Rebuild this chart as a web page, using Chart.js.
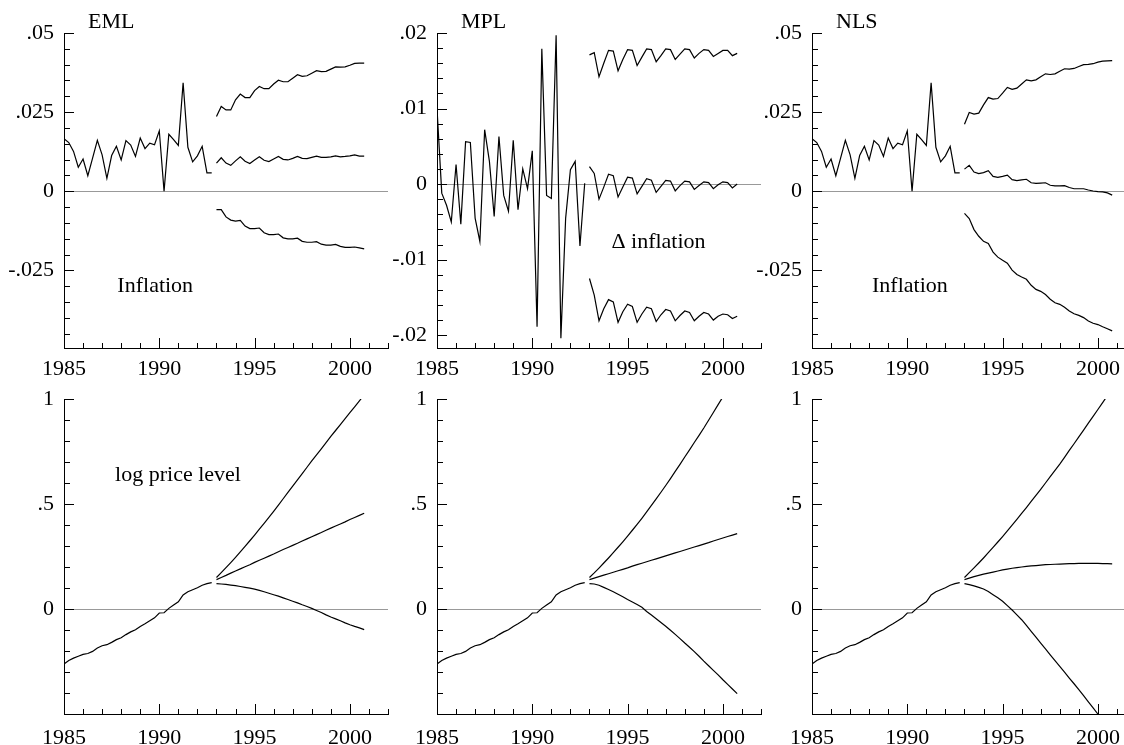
<!DOCTYPE html>
<html>
<head>
<meta charset="utf-8">
<script src="https://cdn.jsdelivr.net/npm/chart.js@4.4.1/dist/chart.umd.min.js"></script>
<style>
  html, body { margin: 0; padding: 0; background: #fff; overflow: hidden; width: 1124px; height: 745px; }
  canvas { position: absolute; }
</style>
</head>
<body>
<canvas id="emlInfl" width="392" height="380" style="left:0px;top:0px"></canvas>
<canvas id="mplInfl" width="392" height="380" style="left:373px;top:0px"></canvas>
<canvas id="nlsInfl" width="392" height="380" style="left:748px;top:0px"></canvas>
<canvas id="emlLog" width="392" height="380" style="left:0px;top:366px"></canvas>
<canvas id="mplLog" width="392" height="380" style="left:373px;top:366px"></canvas>
<canvas id="nlsLog" width="392" height="380" style="left:748px;top:366px"></canvas>
<script>
// quarterly dates: sample 1985Q1-1992Q4, forecasts 1993Q1-2000Q4
const histDates = [];
const foreDates = [];
for (let i = 0; i < 32; i++) {
    histDates.push(1985 + i / 4);
    foreDates.push(1993 + i / 4);
}

const yearLabels = [1985, 1990, 1995, 2000];

// observed series
const inflation = [0.0166, 0.0154, 0.0126, 0.0076, 0.0102, 0.0049, 0.0105, 0.0161,
    0.0115, 0.0041, 0.0113, 0.0142, 0.0099, 0.0160, 0.0146, 0.0110,
    0.0168, 0.0135, 0.0152, 0.0147, 0.0191, 0.0000, 0.0180, 0.0163,
    0.0145, 0.0343, 0.0139, 0.0093, 0.0112, 0.0142, 0.0058, 0.0058];
const dInflation = [0.0100, -0.0012, -0.0028, -0.0050, 0.0026, -0.0053, 0.0056, 0.0055,
    -0.0045, -0.0076, 0.0072, 0.0030, -0.0043, 0.0063, -0.0015, -0.0036,
    0.0058, -0.0034, 0.0020, -0.0006, 0.0044, -0.0189, 0.0179, -0.0015,
    -0.0019, 0.0197, -0.0204, -0.0045, 0.0019, 0.0030, -0.0082, 0.0001];
const logPrice = [-0.262, -0.245, -0.234, -0.225, -0.216, -0.212, -0.202, -0.186,
    -0.175, -0.170, -0.159, -0.146, -0.137, -0.122, -0.109, -0.099,
    -0.083, -0.070, -0.056, -0.042, -0.019, -0.018, 0.003, 0.019,
    0.034, 0.067, 0.082, 0.092, 0.101, 0.113, 0.121, 0.126];

// EML inflation forecasts (upper band, forecast, lower band)
const emlInflUp = [0.0236, 0.0268, 0.0257, 0.0257, 0.0289, 0.0307, 0.0296, 0.0296,
    0.0318, 0.0331, 0.0324, 0.0324, 0.0339, 0.0351, 0.0346, 0.0346,
    0.0357, 0.0368, 0.0363, 0.0365, 0.0373, 0.0381, 0.0378, 0.0379,
    0.0386, 0.0393, 0.0392, 0.0393, 0.0398, 0.0404, 0.0405, 0.0405];
const emlInflMid = [0.0089, 0.0106, 0.0089, 0.0082, 0.0096, 0.0109, 0.0095, 0.0088,
    0.0099, 0.0109, 0.0098, 0.0094, 0.0102, 0.0110, 0.0101, 0.0099,
    0.0104, 0.0110, 0.0104, 0.0103, 0.0107, 0.0111, 0.0107, 0.0107,
    0.0109, 0.0112, 0.0109, 0.0110, 0.0112, 0.0115, 0.0111, 0.0111];
const emlInflLo = [-0.0058, -0.0058, -0.0081, -0.0091, -0.0094, -0.0092, -0.0110, -0.0118,
    -0.0118, -0.0116, -0.0131, -0.0137, -0.0137, -0.0135, -0.0147, -0.0150,
    -0.0150, -0.0148, -0.0158, -0.0161, -0.0161, -0.0159, -0.0167, -0.0170,
    -0.0170, -0.0168, -0.0174, -0.0177, -0.0177, -0.0176, -0.0179, -0.0182];

// MPL delta-inflation forecasts
const mplDinfUp = [0.0171, 0.0174, 0.0142, 0.0160, 0.0177, 0.0176, 0.0150, 0.0165,
    0.0178, 0.0177, 0.0157, 0.0168, 0.0179, 0.0178, 0.0162, 0.0170,
    0.0179, 0.0178, 0.0165, 0.0172, 0.0179, 0.0178, 0.0167, 0.0173,
    0.0178, 0.0177, 0.0169, 0.0173, 0.0177, 0.0177, 0.0170, 0.0173];
const mplDinfMid = [0.0023, 0.0014, -0.0020, -0.0004, 0.0013, 0.0011, -0.0017, -0.0004,
    0.0009, 0.0008, -0.0013, -0.0003, 0.0007, 0.0005, -0.0011, -0.0003,
    0.0005, 0.0004, -0.0009, -0.0002, 0.0004, 0.0003, -0.0007, -0.0002,
    0.0003, 0.0002, -0.0006, -0.0001, 0.0003, 0.0002, -0.0005, 0.0000];
const mplDinfLo = [-0.0125, -0.0147, -0.0181, -0.0165, -0.0153, -0.0156, -0.0183, -0.0169,
    -0.0159, -0.0162, -0.0183, -0.0172, -0.0163, -0.0165, -0.0182, -0.0173,
    -0.0166, -0.0168, -0.0181, -0.0174, -0.0168, -0.0170, -0.0181, -0.0175,
    -0.0170, -0.0172, -0.0180, -0.0175, -0.0172, -0.0173, -0.0178, -0.0175];

// NLS inflation forecasts
const nlsInflUp = [0.0212, 0.0249, 0.0244, 0.0247, 0.0273, 0.0296, 0.0291, 0.0293,
    0.0310, 0.0328, 0.0322, 0.0326, 0.0339, 0.0352, 0.0349, 0.0352,
    0.0362, 0.0371, 0.0369, 0.0371, 0.0379, 0.0387, 0.0386, 0.0388,
    0.0394, 0.0400, 0.0401, 0.0403, 0.0408, 0.0411, 0.0412, 0.0413];
const nlsInflMid = [0.0070, 0.0082, 0.0061, 0.0056, 0.0059, 0.0065, 0.0047, 0.0044,
    0.0047, 0.0051, 0.0037, 0.0034, 0.0036, 0.0038, 0.0027, 0.0025,
    0.0026, 0.0027, 0.0019, 0.0017, 0.0017, 0.0018, 0.0012, 0.0008,
    0.0008, 0.0008, 0.0004, 0.0001, -0.0001, -0.0002, -0.0005, -0.0012];
const nlsInflLo = [-0.0070, -0.0086, -0.0121, -0.0142, -0.0158, -0.0165, -0.0192, -0.0208,
    -0.0218, -0.0227, -0.0249, -0.0263, -0.0271, -0.0278, -0.0297, -0.0310,
    -0.0316, -0.0326, -0.0341, -0.0352, -0.0357, -0.0366, -0.0378, -0.0387,
    -0.0392, -0.0399, -0.0410, -0.0417, -0.0421, -0.0428, -0.0434, -0.0441];

// log price level forecasts
const emlLogUp = [0.150, 0.173, 0.197, 0.221, 0.246, 0.272, 0.298, 0.325,
    0.352, 0.380, 0.408, 0.436, 0.465, 0.495, 0.525, 0.555,
    0.585, 0.615, 0.645, 0.675, 0.705, 0.734, 0.763, 0.792,
    0.822, 0.850, 0.878, 0.906, 0.935, 0.963, 0.991, 1.020];
const emlLogMid = [0.140, 0.150, 0.160, 0.171, 0.181, 0.191, 0.201, 0.211,
    0.222, 0.232, 0.242, 0.252, 0.262, 0.273, 0.283, 0.293,
    0.303, 0.313, 0.324, 0.334, 0.344, 0.354, 0.364, 0.375,
    0.385, 0.395, 0.405, 0.415, 0.426, 0.436, 0.446, 0.456];
const emlLogLo = [0.121, 0.119, 0.117, 0.114, 0.111, 0.107, 0.103, 0.099,
    0.095, 0.089, 0.082, 0.075, 0.068, 0.061, 0.053, 0.045,
    0.037, 0.029, 0.020, 0.012, 0.003, -0.007, -0.017, -0.028,
    -0.038, -0.047, -0.056, -0.066, -0.075, -0.083, -0.090, -0.098];

const mplLogUp = [0.150, 0.172, 0.195, 0.219, 0.243, 0.268, 0.294, 0.320,
    0.347, 0.375, 0.403, 0.432, 0.462, 0.493, 0.524, 0.556,
    0.588, 0.621, 0.655, 0.689, 0.724, 0.758, 0.793, 0.827,
    0.862, 0.899, 0.936, 0.973, 1.010, 1.046, 1.083, 1.120];
const mplLogMid = [0.140, 0.147, 0.154, 0.161, 0.168, 0.175, 0.182, 0.189,
    0.196, 0.204, 0.211, 0.218, 0.225, 0.232, 0.239, 0.246,
    0.253, 0.260, 0.267, 0.274, 0.281, 0.288, 0.295, 0.302,
    0.309, 0.316, 0.324, 0.331, 0.338, 0.345, 0.352, 0.359];
const mplLogLo = [0.121, 0.119, 0.113, 0.103, 0.093, 0.082, 0.070, 0.058,
    0.045, 0.033, 0.021, 0.008, -0.012, -0.029, -0.046, -0.064,
    -0.082, -0.101, -0.121, -0.141, -0.162, -0.182, -0.203, -0.225,
    -0.248, -0.270, -0.292, -0.314, -0.337, -0.359, -0.381, -0.403];

const nlsLogUp = [0.150, 0.173, 0.196, 0.219, 0.243, 0.268, 0.293, 0.319,
    0.345, 0.372, 0.399, 0.427, 0.455, 0.483, 0.512, 0.541,
    0.570, 0.600, 0.630, 0.660, 0.690, 0.722, 0.755, 0.787,
    0.820, 0.852, 0.885, 0.917, 0.950, 0.983, 1.016, 1.050];
const nlsLogMid = [0.140, 0.147, 0.154, 0.160, 0.166, 0.171, 0.176, 0.181,
    0.186, 0.190, 0.194, 0.197, 0.200, 0.203, 0.205, 0.207,
    0.209, 0.211, 0.212, 0.213, 0.214, 0.215, 0.216, 0.216,
    0.217, 0.217, 0.217, 0.217, 0.217, 0.216, 0.216, 0.215];
const nlsLogLo = [0.121, 0.116, 0.110, 0.103, 0.095, 0.083, 0.068, 0.053,
    0.037, 0.016, -0.005, -0.028, -0.051, -0.078, -0.106, -0.134,
    -0.162, -0.190, -0.218, -0.246, -0.273, -0.301, -0.329, -0.356,
    -0.384, -0.413, -0.442, -0.471, -0.500, -0.529, -0.558, -0.587];

// y axis tick labels
const inflTicks = [-0.025, 0, 0.025, 0.05];
const inflTickText = ['-.025', '0', '.025', '.05'];
const dinfTicks = [-0.02, -0.01, 0, 0.01, 0.02];
const dinfTickText = ['-.02', '-.01', '0', '.01', '.02'];
const logTicks = [0, 0.5, 1];
const logTickText = ['0', '.5', '1'];

const FONT = 'Liberation Serif';
Chart.defaults.font.family = FONT;
Chart.defaults.font.size = 22;
Chart.defaults.color = '#000';

// inward tick marks, minor every year / every step, major at labelled values
const tickMarks = {
    id: 'tickMarks',
    afterDraw(chart, args, opts) {
        const {ctx, chartArea, scales: {x, y}} = chart;
        ctx.save();
        ctx.strokeStyle = '#000';
        ctx.lineWidth = 1;
        ctx.beginPath();
        for (let yr = 1985; yr <= 2002; yr++) {
            const px = Math.round(x.getPixelForValue(yr)) + 0.5;
            const len = yearLabels.includes(yr) ? 10 : 5;
            ctx.moveTo(px, chartArea.bottom);
            ctx.lineTo(px, chartArea.bottom - len);
        }
        const n0 = Math.ceil(y.min / opts.step - 1e-6);
        const n1 = Math.floor(y.max / opts.step + 1e-6);
        for (let n = n0; n <= n1; n++) {
            const v = n * opts.step;
            const py = Math.round(y.getPixelForValue(v)) + 0.5;
            const major = opts.major.some(m => Math.abs(m - v) < opts.step / 10);
            ctx.moveTo(chartArea.left, py);
            ctx.lineTo(chartArea.left + (major ? 10 : 6), py);
        }
        ctx.stroke();
        ctx.restore();
    }
};

// panel title and in-plot notes
const panelText = {
    id: 'panelText',
    afterDatasetsDraw(chart, args, opts) {
        const {ctx, chartArea, scales: {x, y}} = chart;
        ctx.save();
        ctx.font = '22px "' + FONT + '"';
        ctx.fillStyle = '#000';
        ctx.textAlign = 'left';
        ctx.textBaseline = 'alphabetic';
        if (opts.title) ctx.fillText(opts.title, chartArea.left + 24, chartArea.top - 5);
        (opts.notes || []).forEach(n => {
            ctx.fillText(n.text, x.getPixelForValue(n.x), y.getPixelForValue(n.y));
        });
        ctx.restore();
    }
};

function series(dates, values) {
    return {
        data: values.map((v, i) => ({x: dates[i], y: v})),
        borderColor: '#000',
        borderWidth: 1.2,
        pointRadius: 0,
        fill: false,
        tension: 0
    };
}

function makePanel(id, p) {
    const ctx = document.getElementById(id).getContext('2d');
    return new Chart(ctx, {
        type: 'line',
        data: {
            datasets: [
                series(histDates, p.hist),
                series(foreDates, p.up),
                series(foreDates, p.mid),
                series(foreDates, p.lo)
            ]
        },
        options: {
            responsive: false,
            animation: false,
            events: [],
            layout: {padding: {top: 33, right: 4, left: 0, bottom: 0}},
            plugins: {
                legend: {display: false},
                tooltip: {enabled: false},
                tickMarks: {step: p.step, major: p.ticks},
                panelText: {title: p.title, notes: p.notes}
            },
            scales: {
                x: {
                    type: 'linear',
                    min: 1985,
                    max: 2002,
                    afterBuildTicks: s => { s.ticks = yearLabels.map(v => ({value: v})); },
                    afterFit: s => { s.height = 32; },
                    ticks: {autoSkip: false, maxRotation: 0, padding: p.xPad, callback: v => String(v)},
                    grid: {drawOnChartArea: false, drawTicks: false},
                    border: {color: '#000', width: 1}
                },
                y: {
                    type: 'linear',
                    min: p.min,
                    max: p.max,
                    afterBuildTicks: s => { s.ticks = p.ticks.map(v => ({value: v})); },
                    afterFit: s => { s.width = 64; },
                    ticks: {autoSkip: false, padding: 10, callback: (v, i) => p.tickText[i]},
                    grid: {
                        drawTicks: false,
                        lineWidth: 1,
                        color: c => (c.tick && c.tick.value === 0) ? '#999' : 'rgba(0,0,0,0)'
                    },
                    border: {color: '#000', width: 1}
                }
            }
        },
        plugins: [tickMarks, panelText]
    });
}

makePanel('emlInfl', {
    title: 'EML', hist: inflation, up: emlInflUp, mid: emlInflMid, lo: emlInflLo,
    min: -0.0495, max: 0.05, step: 0.005, ticks: inflTicks, tickText: inflTickText, xPad: 8,
    notes: [{text: 'Inflation', x: 1987.8, y: -0.0319}]
});
makePanel('mplInfl', {
    title: 'MPL', hist: dInflation, up: mplDinfUp, mid: mplDinfMid, lo: mplDinfLo,
    min: -0.0217, max: 0.02, step: 0.002, ticks: dinfTicks, tickText: dinfTickText, xPad: 8,
    notes: [{text: '\u0394 inflation', x: 1994.15, y: -0.0085}]
});
makePanel('nlsInfl', {
    title: 'NLS', hist: inflation, up: nlsInflUp, mid: nlsInflMid, lo: nlsInflLo,
    min: -0.0495, max: 0.05, step: 0.005, ticks: inflTicks, tickText: inflTickText, xPad: 8,
    notes: [{text: 'Inflation', x: 1988.15, y: -0.0319}]
});
makePanel('emlLog', {
    hist: logPrice, up: emlLogUp, mid: emlLogMid, lo: emlLogLo,
    min: -0.5, max: 1, step: 0.1, ticks: logTicks, tickText: logTickText, xPad: 11,
    notes: [{text: 'log price level', x: 1987.68, y: 0.61}]
});
makePanel('mplLog', {
    hist: logPrice, up: mplLogUp, mid: mplLogMid, lo: mplLogLo,
    min: -0.5, max: 1, step: 0.1, ticks: logTicks, tickText: logTickText, xPad: 11
});
makePanel('nlsLog', {
    hist: logPrice, up: nlsLogUp, mid: nlsLogMid, lo: nlsLogLo,
    min: -0.5, max: 1, step: 0.1, ticks: logTicks, tickText: logTickText, xPad: 11
});
</script>
</body>
</html>
